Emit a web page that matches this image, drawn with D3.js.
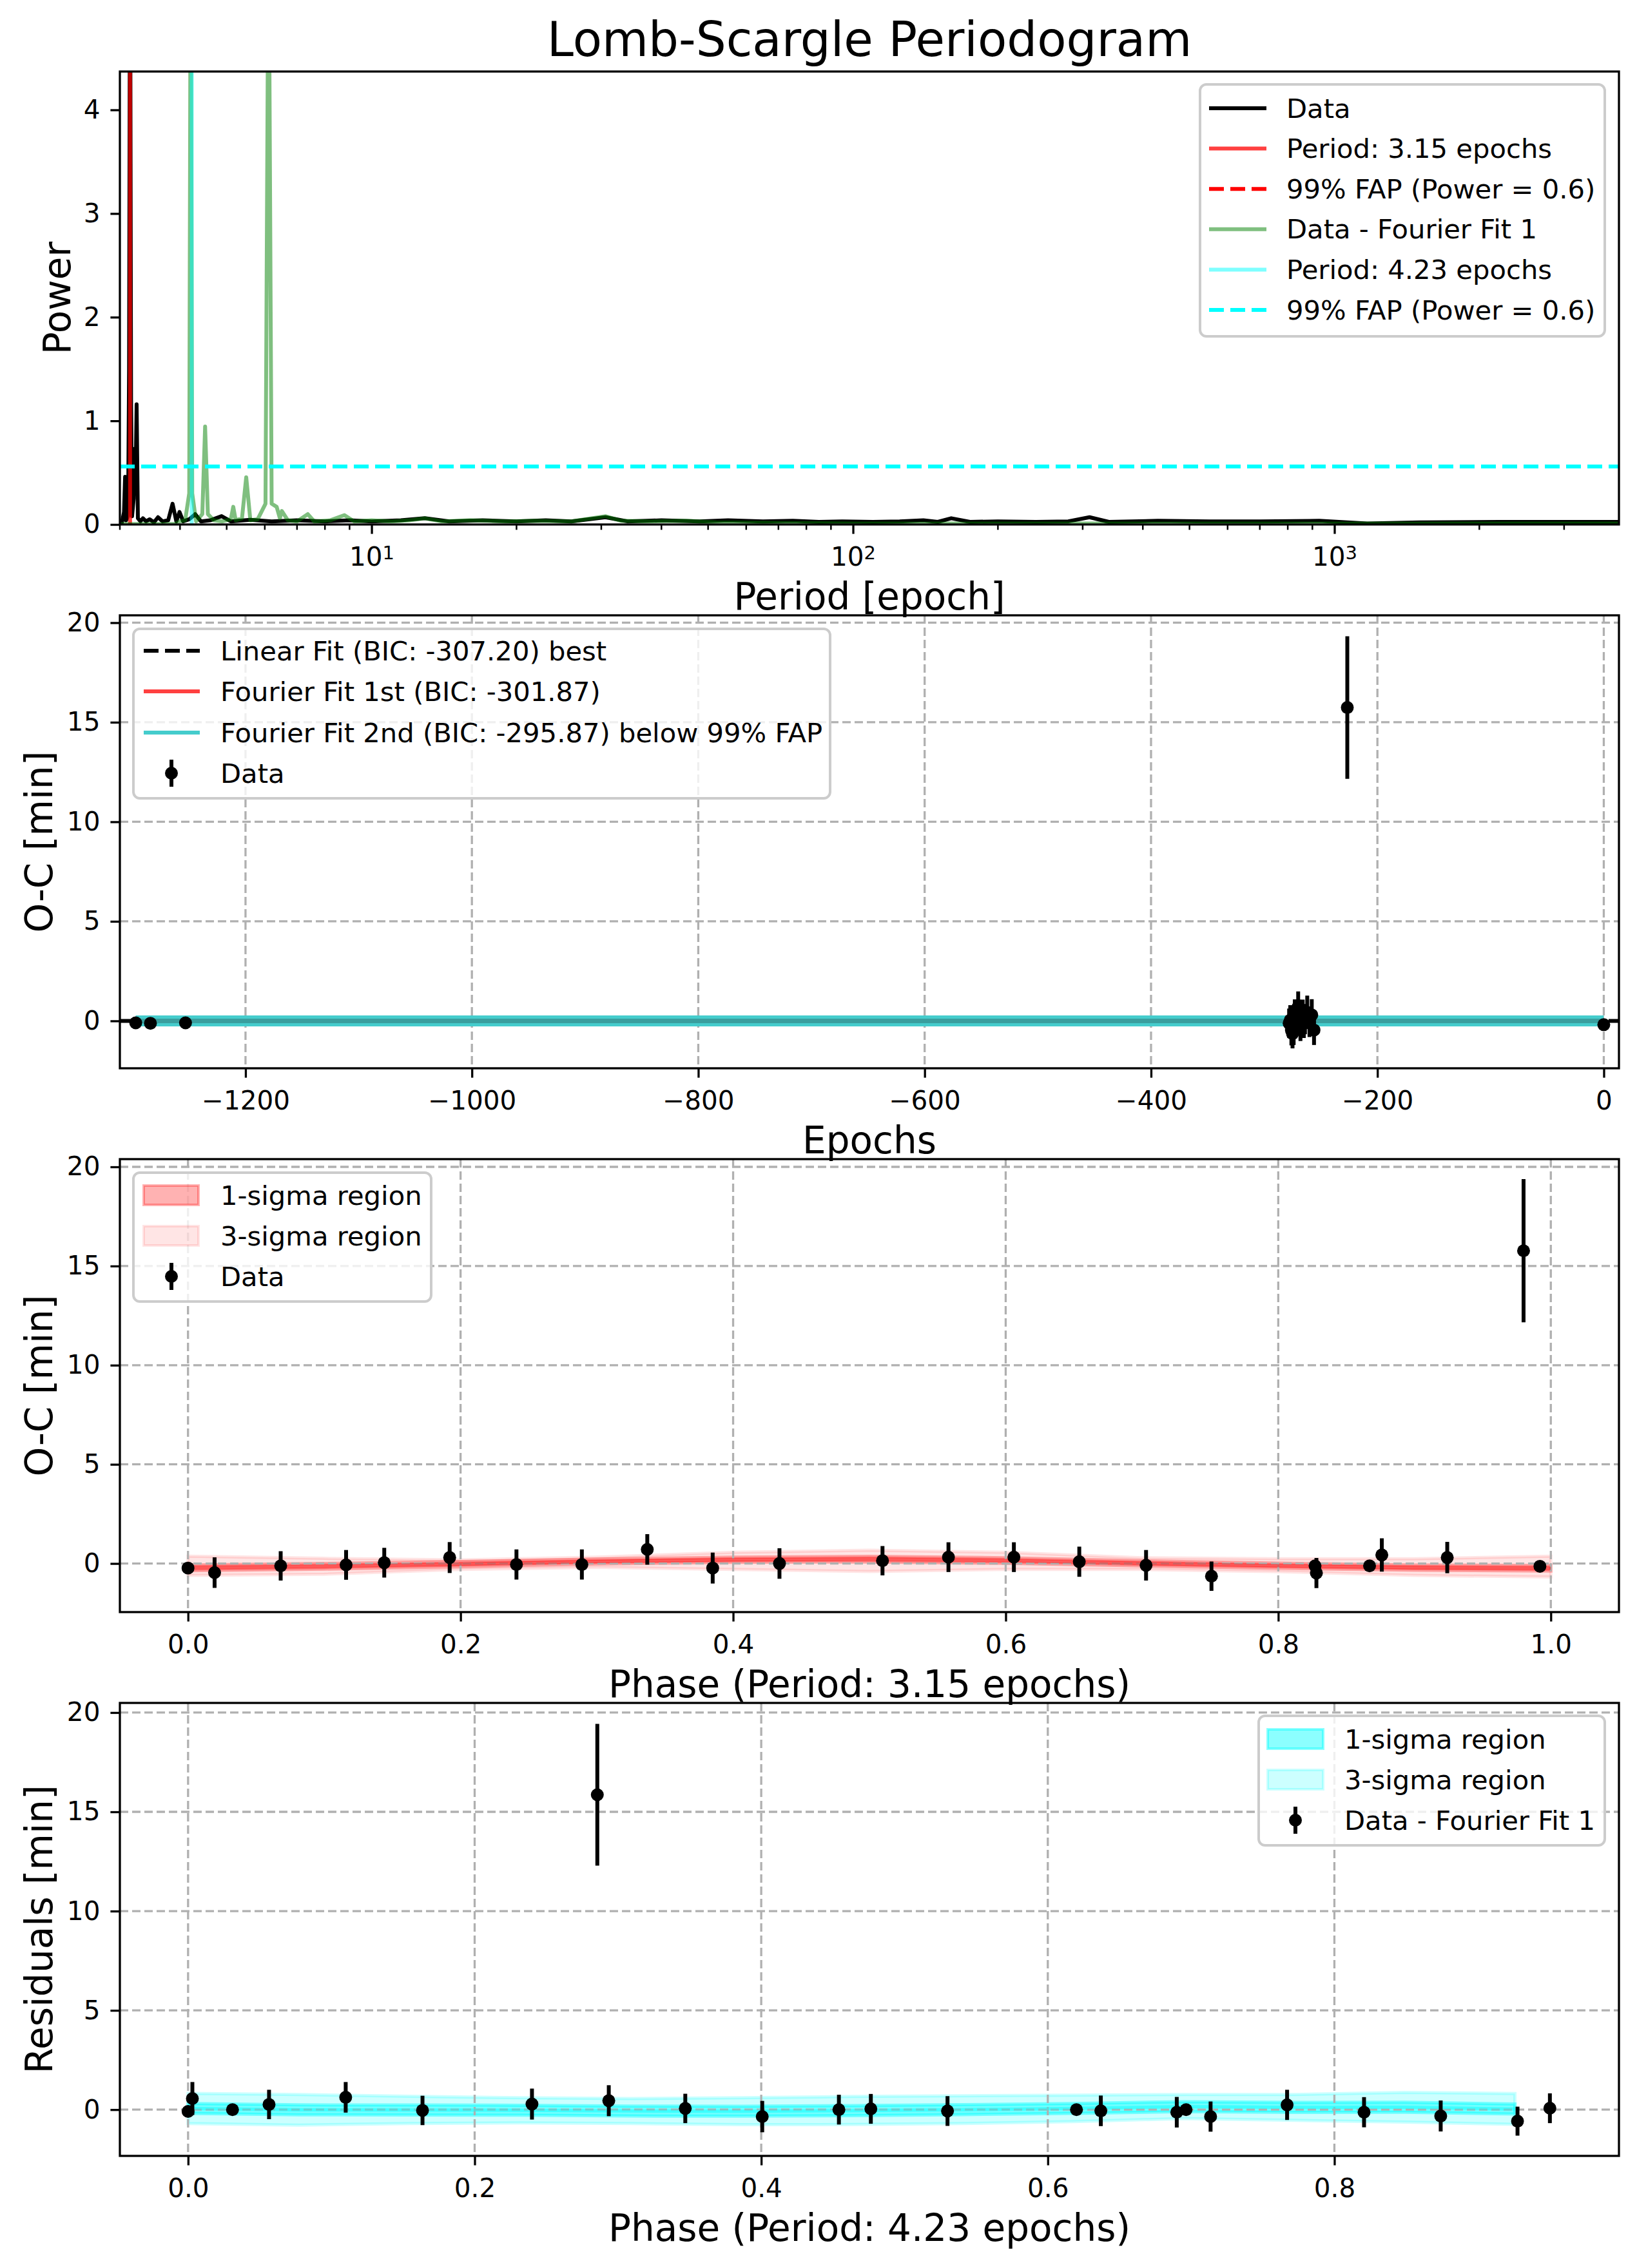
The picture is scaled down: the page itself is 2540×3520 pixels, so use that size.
<!DOCTYPE html>
<html lang="en">
<head>
<meta charset="UTF-8">
<title>Lomb-Scargle Periodogram</title>
<script src="https://cdn.jsdelivr.net/npm/d3@7"></script>
<style>
  body { margin: 0; background: #fff; }
  svg { display: block; font-family: "DejaVu Sans", sans-serif; }
</style>
</head>
<body>
<script>
// ---------- data ----------

// periodogram of the O-C data: [period, power]
var lsData = [
  [3.00,0.03],[3.03,0.02],[3.06,0.12],[3.076,0.46],[3.09,0.04],[3.12,0.08],[3.135,1.5],[3.15,6.0],
  [3.165,1.2],[3.18,0.08],[3.205,0.25],[3.219,0.73],[3.232,0.35],[3.25,1.16],[3.27,0.06],[3.31,0.03],
  [3.35,0.06],[3.40,0.03],[3.46,0.05],[3.53,0.02],[3.60,0.07],[3.68,0.03],[3.78,0.04],[3.86,0.20],
  [3.93,0.03],[3.99,0.12],[4.06,0.03],[4.18,0.05],[4.30,0.10],[4.42,0.03],[4.62,0.04],[4.88,0.08],
  [5.1,0.03],[5.6,0.045],[6.2,0.03],[7.0,0.04],[8.0,0.03],[9.0,0.04],[10,0.03],[11.5,0.04],
  [12.9,0.06],[14.5,0.03],[17,0.04],[20,0.03],[23,0.04],[26,0.03],[30.6,0.07],[34,0.03],
  [40,0.04],[48,0.03],[55,0.04],[65,0.03],[75,0.035],[85,0.025],[95,0.03],[110,0.025],
  [125,0.03],[140,0.04],[150,0.025],[160,0.06],[175,0.025],[200,0.03],[240,0.025],[280,0.03],
  [310,0.07],[340,0.025],[430,0.035],[550,0.03],[700,0.03],[930,0.035],[1170,0.01],[1500,0.02],
  [2200,0.025],[3000,0.025],[3900,0.025]
];
// periodogram of data minus the first Fourier fit
var lsResid = [
  [3.0,0.005],[3.9,0.005],[4.0,0.03],[4.1,0.04],[4.18,0.3],[4.21,6.0],[4.24,0.3],[4.32,0.03],
  [4.45,0.1],[4.51,0.945],[4.57,0.1],[4.7,0.04],[4.9,0.03],[5.10,0.05],[5.16,0.17],[5.22,0.04],
  [5.38,0.06],[5.49,0.456],[5.6,0.04],[5.8,0.05],[6.02,0.2],[6.11,6.0],[6.2,0.2],[6.35,0.17],
  [6.45,0.06],[6.51,0.13],[6.7,0.04],[7.0,0.03],[7.37,0.1],[7.6,0.03],[8.2,0.04],[8.78,0.09],
  [9.2,0.03],[10,0.04],[11,0.03],[12,0.04],[12.9,0.06],[14,0.03],[16,0.04],[19,0.03],
  [22,0.035],[26,0.03],[30.6,0.08],[33,0.035],[38,0.03],[45,0.035],[52,0.02],[70,0.015],
  [100,0.01],[200,0.01],[500,0.01],[3900,0.01]
];
var bestPeriod1 = 3.15, bestPeriod2 = 4.23;
var fapPower1 = 0.56, fapPower2 = 0.56;
var lsLegend = ["Data", "Period: 3.15 epochs", "99% FAP (Power = 0.6)",
                "Data - Fourier Fit 1", "Period: 4.23 epochs", "99% FAP (Power = 0.6)"];

// O-C against epoch
var ocEpoch = [-1297, -1284, -1253,
  -278, -277, -276, -275, -274, -273, -272, -271, -270, -269,
  -268, -267, -266, -265, -264, -262, -260, -258, -256, -226.6, 0];
var ocValue = [-0.10, -0.12, -0.10,
  -0.12, 0.04, -0.46, -0.64, -0.46, 0.30, -0.05, 0.14, 0.71, 0.32,
  -0.23, 0.00, 0.32, -0.09, 0.09, 0.43, -0.05, 0.30, -0.46, 15.74, -0.19];
var ocError = [0.1, 0.1, 0.1,
  0.74, 0.75, 0.77, 0.74, 0.75, 0.78, 0.76, 0.74, 0.77, 0.75,
  0.78, 0.77, 0.75, 0.77, 0.76, 0.84, 0.76, 0.79, 0.75, 3.58, 0.1];
var linFitEpoch = [-1311, 13.4], linFitValue = [0.0, 0.0];
var fourierEpoch = [-1297, 0], fourier1Value = [0.0, 0.0], fourier2Value = [0.0, 0.0];
var ocLegend = ["Linear Fit (BIC: -307.20) best", "Fourier Fit 1st (BIC: -301.87)",
                "Fourier Fit 2nd (BIC: -295.87) below 99% FAP", "Data"];

// O-C folded on 3.15 epochs
var ph1 = [0.000, 0.0195, 0.068, 0.116, 0.144, 0.192, 0.241, 0.289, 0.337, 0.385, 0.434, 0.5096,
  0.558, 0.606, 0.654, 0.703, 0.751, 0.827, 0.828, 0.867, 0.876, 0.924, 0.980, 0.992];
var ph1Value = [-0.23, -0.46, -0.12, -0.07, 0.04, 0.30, -0.05, -0.05, 0.71, -0.23, 0.00, 0.14,
  0.32, 0.32, 0.09, -0.09, -0.64, -0.12, -0.48, -0.12, 0.43, 0.30, 15.77, -0.14];
var ph1Error = [0.1, 0.77, 0.74, 0.75, 0.75, 0.78, 0.76, 0.76, 0.77, 0.78, 0.77, 0.74,
  0.75, 0.75, 0.76, 0.77, 0.74, 0.1, 0.76, 0.1, 0.84, 0.79, 3.61, 0.1];
var band1Phase = [0, 0.1, 0.2, 0.3, 0.4, 0.5, 0.6, 0.7, 0.8, 0.9, 1.0];
var band1Mid = [-0.22, -0.14, -0.03, 0.10, 0.19, 0.22, 0.15, 0.01, -0.11, -0.21, -0.24];
var band1Lo1 = [-0.36, -0.28, -0.16, -0.02, 0.06, 0.08, 0.01, -0.12, -0.24, -0.34, -0.38];
var band1Hi1 = [-0.08, 0.00, 0.10, 0.22, 0.32, 0.36, 0.29, 0.14, 0.02, -0.08, -0.10];
var band1Lo3 = [-0.60, -0.54, -0.30, -0.19, -0.30, -0.40, -0.30, -0.30, -0.41, -0.60, -0.68];
var band1Hi3 = [0.37, 0.26, 0.18, 0.32, 0.56, 0.67, 0.56, 0.29, 0.24, 0.24, 0.37];

// residuals folded on 4.23 epochs
var ph2 = [0.000, 0.003, 0.031, 0.0565, 0.110, 0.1636, 0.240, 0.2856, 0.2936, 0.347, 0.4007, 0.4542,
  0.4765, 0.530, 0.620, 0.637, 0.690, 0.6965, 0.7136, 0.767, 0.8207, 0.8742, 0.9278, 0.9504];
var ph2Value = [-0.09, 0.56, 0.00, 0.26, 0.62, -0.04, 0.28, 15.86, 0.45, 0.06, -0.35, 0.00,
  0.04, -0.07, 0.00, -0.06, -0.13, 0.00, -0.35, 0.24, -0.13, -0.32, -0.58, 0.07];
var ph2Error = [0.1, 0.83, 0.1, 0.74, 0.77, 0.74, 0.78, 3.57, 0.78, 0.74, 0.79, 0.75,
  0.75, 0.75, 0.1, 0.77, 0.77, 0.1, 0.76, 0.76, 0.76, 0.78, 0.73, 0.75];
var band2Phase = [0, 0.0772, 0.1545, 0.2317, 0.309, 0.386, 0.463, 0.5405, 0.618, 0.695, 0.772, 0.849, 0.926];
var band2Mid = [0.06, -0.01, -0.02, -0.03, -0.07, -0.08, -0.05, 0.00, 0.06, 0.15, 0.11, 0.12, 0.03];
var band2Lo1 = [-0.19, -0.26, -0.27, -0.28, -0.32, -0.33, -0.30, -0.25, -0.19, -0.10, -0.14, -0.13, -0.22];
var band2Hi1 = [0.31, 0.24, 0.23, 0.22, 0.18, 0.17, 0.20, 0.25, 0.31, 0.40, 0.36, 0.37, 0.28];
var band2Lo3 = [-0.70, -0.78, -0.70, -0.67, -0.70, -0.76, -0.75, -0.70, -0.60, -0.45, -0.54, -0.63, -0.74];
var band2Hi3 = [0.82, 0.76, 0.67, 0.60, 0.56, 0.60, 0.66, 0.70, 0.73, 0.76, 0.76, 0.87, 0.81];

var sigmaLegend = ["1-sigma region", "3-sigma region"];

// ticks
var yTicksPower = [0, 1, 2, 3, 4];
var xTicksPeriod = [10, 100, 1000];
var xTicksEpoch = [-1200, -1000, -800, -600, -400, -200, 0];
var yTicksOC = [0, 5, 10, 15, 20];
var xTicksPhase1 = [0, 0.2, 0.4, 0.6, 0.8, 1.0];
var xTicksPhase2 = [0, 0.2, 0.4, 0.6, 0.8];

// ---------- layout ----------
var width = 2540, height = 3520;
var plotL = 186, plotW = 2326, plotH = 703;
var tops = [111, 955, 1799, 2643];
var TICK = 40.5, LEG = 41.7, LABEL = 58, LW = 6;

var svg = d3.select("body").append("svg")
  .attr("width", width).attr("height", height);
svg.append("rect").attr("width", width).attr("height", height).attr("fill", "#fff");

function zip(a, b, c) {
  return a.map(function(v, i) { return {x: v, y: b[i], e: c ? c[i] : 0}; });
}

function makePanel(i) {
  var g = svg.append("g").attr("transform", "translate(" + plotL + "," + tops[i] + ")");
  g.append("clipPath").attr("id", "clip" + i)
    .append("rect").attr("width", plotW).attr("height", plotH);
  var plot = g.append("g").attr("clip-path", "url(#clip" + i + ")");
  return {
    g: g,
    band: plot.append("g"),
    grid: plot.append("g"),
    lines: plot.append("g"),
    points: plot.append("g")
  };
}

function styleAxis(sel) {
  sel.attr("font-size", TICK).attr("font-family", "DejaVu Sans");
  sel.select(".domain").remove();
  sel.selectAll(".tick line").attr("stroke", "#000").attr("stroke-width", 3.3);
  sel.selectAll(".tick text").attr("fill", "#000");
}

function drawAxes(p, x, y, xTicks, xFmt, yTicks, yFmt) {
  var ax = p.g.append("g").attr("transform", "translate(0," + plotH + ")")
    .call(d3.axisBottom(x).tickValues(xTicks).tickFormat(xFmt)
      .tickSize(14.6).tickPadding(21).tickSizeOuter(0));
  styleAxis(ax);
  var ay = p.g.append("g")
    .call(d3.axisLeft(y).tickValues(yTicks).tickFormat(yFmt)
      .tickSize(14.6).tickPadding(16).tickSizeOuter(0));
  styleAxis(ay);
  return ax;
}

function drawGrid(p, x, y, xTicks, yTicks) {
  p.grid.selectAll("line.gx").data(xTicks).join("line")
    .attr("x1", x).attr("x2", x).attr("y1", 0).attr("y2", plotH);
  p.grid.selectAll("line.gy").data(yTicks).join("line")
    .attr("x1", 0).attr("x2", plotW).attr("y1", y).attr("y2", y);
  p.grid.selectAll("line")
    .attr("stroke", "#b0b0b0").attr("stroke-width", 3.3).attr("stroke-dasharray", "13,6");
}

function drawSpines(p) {
  p.g.append("rect").attr("width", plotW).attr("height", plotH)
    .attr("fill", "none").attr("stroke", "#000").attr("stroke-width", 3.3);
}

function labels(p, xText, yText, yX) {
  p.g.append("text").attr("x", plotW / 2).attr("y", plotH + 132)
    .attr("text-anchor", "middle").attr("font-size", LABEL).text(xText);
  p.g.append("text")
    .attr("transform", "translate(" + (yX - plotL) + "," + (plotH / 2) + ") rotate(-90)")
    .attr("text-anchor", "middle").attr("font-size", LABEL).text(yText);
}

function errorBars(p, x, y, pts) {
  p.points.selectAll("line.eb").data(pts).join("line")
    .attr("x1", function(d) { return x(d.x); }).attr("x2", function(d) { return x(d.x); })
    .attr("y1", function(d) { return y(d.y - d.e); }).attr("y2", function(d) { return y(d.y + d.e); })
    .attr("stroke", "#000").attr("stroke-width", LW);
  p.points.selectAll("circle").data(pts).join("circle")
    .attr("cx", function(d) { return x(d.x); }).attr("cy", function(d) { return y(d.y); })
    .attr("r", 10).attr("fill", "#000");
}

function legendFrame(x0, y0, x1, y1) {
  svg.append("rect").attr("x", x0).attr("y", y0)
    .attr("width", x1 - x0).attr("height", y1 - y0).attr("rx", 10)
    .attr("fill", "#fff").attr("fill-opacity", 0.8)
    .attr("stroke", "#cccccc").attr("stroke-width", 4);
}

function legendText(x, y, txt) {
  svg.append("text").attr("x", x).attr("y", y).attr("dy", "0.35em")
    .attr("font-size", LEG).text(txt);
}

function legendErr(cx, cy) {
  svg.append("line").attr("x1", cx).attr("x2", cx).attr("y1", cy - 21).attr("y2", cy + 21)
    .attr("stroke", "#000").attr("stroke-width", LW);
  svg.append("circle").attr("cx", cx).attr("cy", cy).attr("r", 10).attr("fill", "#000");
}

// ---------- panel 1: periodogram ----------
(function() {
  var p = makePanel(0);
  var x = d3.scaleLog().domain([3.0, 3900]).range([0, plotW]);
  var y = d3.scaleLinear().domain([0, 4.37]).range([plotH, 0]);
  var line = d3.line().x(function(d) { return x(d[0]); }).y(function(d) { return y(d[1]); });

  p.lines.append("path").datum(lsData).attr("d", line)
    .attr("fill", "none").attr("stroke", "#000").attr("stroke-width", LW).attr("stroke-linejoin", "round");
  p.lines.append("line").attr("x1", x(bestPeriod1)).attr("x2", x(bestPeriod1))
    .attr("y1", 0).attr("y2", plotH)
    .attr("stroke", "#ff0000").attr("stroke-opacity", 0.75).attr("stroke-width", LW);
  p.lines.append("line").attr("x1", 0).attr("x2", plotW).attr("y1", y(fapPower1)).attr("y2", y(fapPower1))
    .attr("stroke", "#ff0000").attr("stroke-width", LW).attr("stroke-dasharray", "23,10");
  p.lines.append("path").datum(lsResid).attr("d", line)
    .attr("fill", "none").attr("stroke", "#008000").attr("stroke-opacity", 0.5)
    .attr("stroke-width", LW).attr("stroke-linejoin", "round");
  p.lines.append("line").attr("x1", x(bestPeriod2)).attr("x2", x(bestPeriod2))
    .attr("y1", 0).attr("y2", plotH)
    .attr("stroke", "#00ffff").attr("stroke-opacity", 0.5).attr("stroke-width", LW);
  p.lines.append("line").attr("x1", 0).attr("x2", plotW).attr("y1", y(fapPower2)).attr("y2", y(fapPower2))
    .attr("stroke", "#00ffff").attr("stroke-width", LW).attr("stroke-dasharray", "23,10");

  var ax = drawAxes(p, x, y, xTicksPeriod, function() { return ""; }, yTicksPower, d3.format("d"));
  ax.selectAll(".tick text").each(function(d) {
    var t = d3.select(this);
    t.append("tspan").text("10");
    t.append("tspan").attr("dy", -10).attr("font-size", 29).text(String(Math.round(Math.log10(d))));
  });
  // minor ticks of the log axis
  var minor = x.ticks().filter(function(v) { return xTicksPeriod.indexOf(v) < 0; });
  p.g.append("g").selectAll("line").data(minor).join("line")
    .attr("x1", x).attr("x2", x).attr("y1", plotH).attr("y2", plotH + 8.3)
    .attr("stroke", "#000").attr("stroke-width", 2.5);

  drawSpines(p);
  labels(p, "Period [epoch]", "Power", 109);

  svg.append("text").attr("x", plotL + plotW / 2).attr("y", 87)
    .attr("text-anchor", "middle").attr("font-size", 74).text("Lomb-Scargle Periodogram");

  // legend
  legendFrame(1862, 131, 2490, 522);
  var styles = [
    {c: "#000", o: 1, dash: null},
    {c: "#ff0000", o: 0.75, dash: null},
    {c: "#ff0000", o: 1, dash: "23,10"},
    {c: "#008000", o: 0.5, dash: null},
    {c: "#00ffff", o: 0.5, dash: null},
    {c: "#00ffff", o: 1, dash: "23,10"}
  ];
  lsLegend.forEach(function(txt, i) {
    var ry = 168 + 62.6 * i;
    svg.append("line").attr("x1", 1876).attr("x2", 1965).attr("y1", ry).attr("y2", ry)
      .attr("stroke", styles[i].c).attr("stroke-opacity", styles[i].o)
      .attr("stroke-width", LW).attr("stroke-dasharray", styles[i].dash);
    legendText(1996, ry, txt);
  });
})();

// ---------- panel 2: O-C against epoch ----------
(function() {
  var p = makePanel(1);
  var x = d3.scaleLinear().domain([-1311, 13.4]).range([0, plotW]);
  var y = d3.scaleLinear().domain([-2.38, 20.37]).range([plotH, 0]);
  drawGrid(p, x, y, xTicksEpoch, yTicksOC);
  var line = d3.line().x(function(d) { return x(d.x); }).y(function(d) { return y(d.y); });

  p.lines.append("path").datum(zip(linFitEpoch, linFitValue)).attr("d", line)
    .attr("fill", "none").attr("stroke", "#000").attr("stroke-width", LW).attr("stroke-dasharray", "23,10");
  p.lines.append("path").datum(zip(fourierEpoch, fourier1Value)).attr("d", line)
    .attr("fill", "none").attr("stroke", "#ff0000").attr("stroke-opacity", 0.75).attr("stroke-width", 14);
  p.lines.append("path").datum(zip(fourierEpoch, fourier2Value)).attr("d", line)
    .attr("fill", "none").attr("stroke", "#45cccc").attr("stroke-width", 17);
  p.lines.append("path").datum(zip(fourierEpoch, fourier2Value)).attr("d", line)
    .attr("fill", "none").attr("stroke", "#3a9e9e").attr("stroke-width", 7);

  errorBars(p, x, y, zip(ocEpoch, ocValue, ocError));

  drawAxes(p, x, y, xTicksEpoch, d3.format("d"), yTicksOC, d3.format("d"));
  drawSpines(p);
  labels(p, "Epochs", "O-C [min]", 81);

  legendFrame(207, 976, 1288, 1239);
  var rows = [1010, 1073, 1137, 1200];
  var cols = ["#000", "#ff4040", "#45cccc"];
  rows.slice(0, 3).forEach(function(ry, i) {
    svg.append("line").attr("x1", 223).attr("x2", 310).attr("y1", ry).attr("y2", ry)
      .attr("stroke", cols[i]).attr("stroke-width", LW)
      .attr("stroke-dasharray", i === 0 ? "23,10" : null);
  });
  legendErr(266, rows[3]);
  ocLegend.forEach(function(txt, i) { legendText(342, rows[i], txt); });
})();

// ---------- phase-folded panels ----------
function bandPanel(i, pts, ph, mid, lo1, hi1, lo3, hi3, col, a1, a3, xDom, xTicks, yDom, xText, yText) {
  var p = makePanel(i);
  var x = d3.scaleLinear().domain(xDom).range([0, plotW]);
  var y = d3.scaleLinear().domain(yDom).range([plotH, 0]);
  var area = function(lo, hi) {
    return d3.area().x(function(d, k) { return x(ph[k]); })
      .y0(function(d, k) { return y(lo[k]); }).y1(function(d, k) { return y(hi[k]); });
  };
  p.band.append("path").datum(ph).attr("d", area(lo3, hi3))
    .attr("fill", col).attr("fill-opacity", a3)
    .attr("stroke", col).attr("stroke-opacity", a3).attr("stroke-width", 5);
  p.band.append("path").datum(ph).attr("d", area(lo1, hi1))
    .attr("fill", col).attr("fill-opacity", a1)
    .attr("stroke", col).attr("stroke-opacity", a1).attr("stroke-width", 5);
  drawGrid(p, x, y, xTicks, yTicksOC);
  p.lines.append("path").datum(ph)
    .attr("d", d3.line().x(function(d, k) { return x(ph[k]); }).y(function(d, k) { return y(mid[k]); }))
    .attr("fill", "none").attr("stroke", col).attr("stroke-opacity", 0.45).attr("stroke-width", 5);

  errorBars(p, x, y, pts);
  drawAxes(p, x, y, xTicks, d3.format(".1f"), yTicksOC, d3.format("d"));
  drawSpines(p);
  labels(p, xText, yText, 81);
}

bandPanel(2, zip(ph1, ph1Value, ph1Error), band1Phase, band1Mid, band1Lo1, band1Hi1, band1Lo3, band1Hi3,
  "#ff0000", 0.3, 0.1, [-0.05, 1.05], xTicksPhase1, [-2.45, 20.39],
  "Phase (Period: 3.15 epochs)", "O-C [min]");

bandPanel(3, zip(ph2, ph2Value, ph2Error), band2Phase, band2Mid, band2Lo1, band2Hi1, band2Lo3, band2Hi3,
  "#00ffff", 0.45, 0.2, [-0.0476, 0.9986], xTicksPhase2, [-2.33, 20.485],
  "Phase (Period: 4.23 epochs)", "Residuals [min]");

// legends of the folded panels
(function() {
  legendFrame(207, 1820, 669, 2020);
  var rows = [1855, 1918, 1981];
  [0.3, 0.1].forEach(function(a, i) {
    svg.append("rect").attr("x", 223).attr("y", rows[i] - 15).attr("width", 85).attr("height", 30)
      .attr("fill", "#ff0000").attr("fill-opacity", a)
      .attr("stroke", "#ff0000").attr("stroke-opacity", a).attr("stroke-width", 4);
  });
  legendErr(266, rows[2]);
  sigmaLegend.concat(["Data"]).forEach(function(txt, i) { legendText(342, rows[i], txt); });

  legendFrame(1953, 2663, 2490, 2864);
  var rows2 = [2699, 2762, 2825];
  [0.45, 0.2].forEach(function(a, i) {
    svg.append("rect").attr("x", 1967).attr("y", rows2[i] - 15).attr("width", 86).attr("height", 30)
      .attr("fill", "#00ffff").attr("fill-opacity", a)
      .attr("stroke", "#00ffff").attr("stroke-opacity", a).attr("stroke-width", 4);
  });
  legendErr(2010, rows2[2]);
  sigmaLegend.concat(["Data - Fourier Fit 1"]).forEach(function(txt, i) { legendText(2086, rows2[i], txt); });
})();
</script>
</body>
</html>
